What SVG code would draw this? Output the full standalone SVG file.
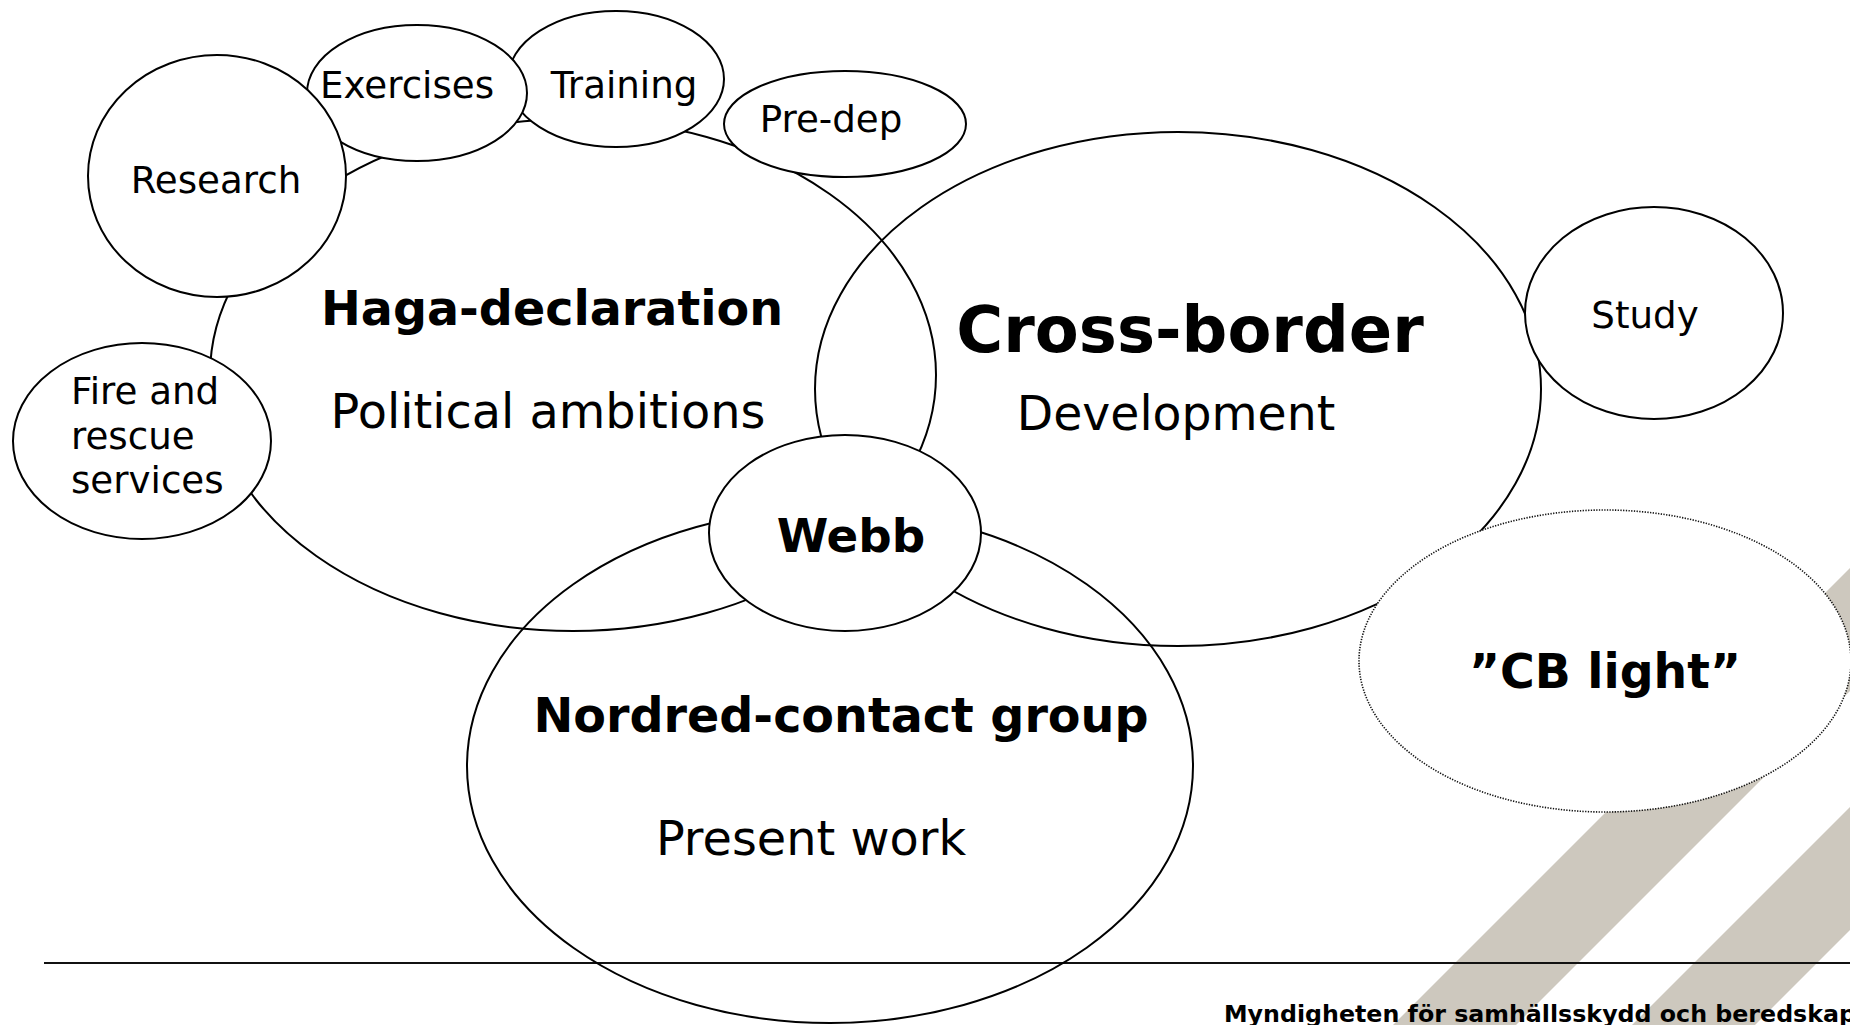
<svg xmlns="http://www.w3.org/2000/svg" width="1850" height="1025" viewBox="0 0 1850 1025">
<style>
.big{fill:none;stroke:#000;stroke-width:2}
.small{fill:#fff;stroke:#000;stroke-width:2}
.dotted{fill:#fff;stroke:#111;stroke-width:1.6;stroke-dasharray:1.3 1.4}
text{font-family:"DejaVu Sans","Liberation Sans",sans-serif;fill:#000}
.b{font-weight:bold}
.m{text-anchor:middle}
.s{font-size:37.2px}
.stripe{fill:#CDC8BE}
</style>
<rect x="0" y="0" width="1850" height="1025" fill="#fff"/>
<g id="decor">
<polygon class="stripe" points="1393,1025 1516,1025 2091,450 1968,450"/>
<polygon class="stripe" points="1632,1025 1755,1025 2091,689 1968,689"/>
<line x1="44" y1="963" x2="1850" y2="963" stroke="#111" stroke-width="2"/>
<text class="b" x="1224" y="1022" font-size="23" textLength="632" lengthAdjust="spacingAndGlyphs">Myndigheten för samhällsskydd och beredskap</text>
</g>
<g id="connectors"></g>
<g id="haga">
<ellipse class="big" cx="573" cy="375" rx="363" ry="256"/>
<text class="b m" x="552" y="325" font-size="47.6">Haga-declaration</text>
<text class="m" x="548" y="428" font-size="47.8">Political ambitions</text>
</g>
<g id="crossborder">
<ellipse class="big" cx="1178" cy="389" rx="363" ry="257"/>
<text class="b m" x="1190" y="352" font-size="64">Cross-border</text>
<text class="m" x="1176" y="430" font-size="47.3">Development</text>
</g>
<g id="nordred">
<ellipse class="big" cx="830" cy="766" rx="363" ry="257"/>
<text class="b m" x="841" y="732" font-size="47.6">Nordred-contact group</text>
<text class="m" x="811" y="855" font-size="47.8">Present work</text>
</g>
<g id="training">
<ellipse class="small" cx="616" cy="79" rx="108" ry="68"/>
<text class="m s" x="624" y="98">Training</text>
</g>
<g id="exercises">
<ellipse class="small" cx="417" cy="93" rx="110" ry="68"/>
<text class="m s" x="407" y="98">Exercises</text>
</g>
<g id="research">
<ellipse class="small" cx="217" cy="176" rx="129" ry="121"/>
<text class="m s" x="216" y="193">Research</text>
</g>
<g id="predep">
<ellipse class="small" cx="845" cy="124" rx="121" ry="53"/>
<text class="m s" x="831" y="132">Pre-dep</text>
</g>
<g id="fire">
<ellipse class="small" cx="142" cy="441" rx="129" ry="98"/>
<text class="s" x="71" y="404">Fire and</text>
<text class="s" x="71" y="449">rescue</text>
<text class="s" x="71" y="493">services</text>
</g>
<g id="study">
<ellipse class="small" cx="1654" cy="313" rx="129" ry="106"/>
<text class="m s" x="1645" y="328">Study</text>
</g>
<g id="webb">
<ellipse class="small" cx="845" cy="533" rx="136" ry="98"/>
<text class="b m" x="851" y="552" font-size="46.8">Webb</text>
</g>
<g id="cblight">
<ellipse class="dotted" cx="1605" cy="661" rx="246" ry="151"/>
<text class="b m" x="1605" y="688" font-size="47.3">”CB light”</text>
</g>
</svg>
